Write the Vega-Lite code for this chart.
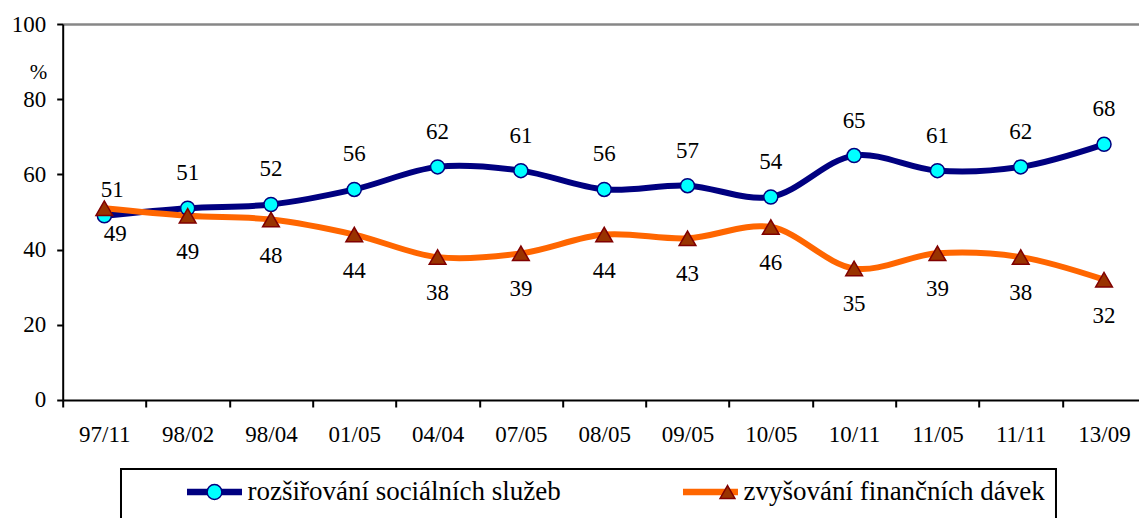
{
  "$schema": "https://vega.github.io/schema/vega-lite/v6.json",
  "width": 1083,
  "height": 376,
  "autosize": {"type": "none"},
  "padding": {"left": 62.7, "top": 24, "right": 0, "bottom": 118},
  "background": "white",
  "config": {
    "view": {"stroke": null},
    "font": "Liberation Serif",
    "text": {"font": "Liberation Serif"},
    "axis": {"labelFont": "Liberation Serif", "titleFont": "Liberation Serif"},
    "legend": {"labelFont": "Liberation Serif", "titleFont": "Liberation Serif"}
  },
  "data": {
    "values": [
      {"period": "97/11", "series": "rozšiřování sociálních služeb", "value": 49},
      {"period": "97/11", "series": "zvyšování finančních dávek", "value": 51},
      {"period": "98/02", "series": "rozšiřování sociálních služeb", "value": 51},
      {"period": "98/02", "series": "zvyšování finančních dávek", "value": 49},
      {"period": "98/04", "series": "rozšiřování sociálních služeb", "value": 52},
      {"period": "98/04", "series": "zvyšování finančních dávek", "value": 48},
      {"period": "01/05", "series": "rozšiřování sociálních služeb", "value": 56},
      {"period": "01/05", "series": "zvyšování finančních dávek", "value": 44},
      {"period": "04/04", "series": "rozšiřování sociálních služeb", "value": 62},
      {"period": "04/04", "series": "zvyšování finančních dávek", "value": 38},
      {"period": "07/05", "series": "rozšiřování sociálních služeb", "value": 61},
      {"period": "07/05", "series": "zvyšování finančních dávek", "value": 39},
      {"period": "08/05", "series": "rozšiřování sociálních služeb", "value": 56},
      {"period": "08/05", "series": "zvyšování finančních dávek", "value": 44},
      {"period": "09/05", "series": "rozšiřování sociálních služeb", "value": 57},
      {"period": "09/05", "series": "zvyšování finančních dávek", "value": 43},
      {"period": "10/05", "series": "rozšiřování sociálních služeb", "value": 54},
      {"period": "10/05", "series": "zvyšování finančních dávek", "value": 46},
      {"period": "10/11", "series": "rozšiřování sociálních služeb", "value": 65},
      {"period": "10/11", "series": "zvyšování finančních dávek", "value": 35},
      {"period": "11/05", "series": "rozšiřování sociálních služeb", "value": 61},
      {"period": "11/05", "series": "zvyšování finančních dávek", "value": 39},
      {"period": "11/11", "series": "rozšiřování sociálních služeb", "value": 62},
      {"period": "11/11", "series": "zvyšování finančních dávek", "value": 38},
      {"period": "13/09", "series": "rozšiřování sociálních služeb", "value": 68},
      {"period": "13/09", "series": "zvyšování finančních dávek", "value": 32}
    ]
  },
  "encoding": {
    "x": {
      "field": "period",
      "type": "nominal",
      "sort": null,
      "scale": {"type": "band", "paddingInner": 0, "paddingOuter": 0},
      "axis": {
        "title": null,
        "labelAngle": 0,
        "labelFontSize": 23,
        "labelColor": "black",
        "labelPadding": 17,
        "tickBand": "extent",
        "tickSize": 7,
        "tickWidth": 2,
        "tickColor": "black",
        "domainColor": "black",
        "domainWidth": 2,
        "grid": false
      }
    },
    "y": {
      "field": "value",
      "type": "quantitative",
      "scale": {"domain": [0, 100], "nice": false},
      "axis": {
        "title": "%",
        "titleAngle": 0,
        "titleX": -24.7,
        "titleY": 48,
        "titleAlign": "center",
        "titleBaseline": "middle",
        "titleFontSize": 21,
        "titleFontWeight": "normal",
        "titleColor": "black",
        "values": [0, 20, 40, 60, 80, 100],
        "labelFontSize": 23,
        "labelColor": "black",
        "labelPadding": 11,
        "tickSize": 6,
        "tickWidth": 2,
        "tickColor": "black",
        "domainColor": "black",
        "domainWidth": 2,
        "grid": true,
        "gridColor": "#878787",
        "gridWidth": 2.5,
        "gridOpacity": {"condition": {"test": "datum.value === 100", "value": 1}, "value": 0}
      }
    }
  },
  "layer": [
    {
      "mark": {"type": "line", "interpolate": "catmull-rom", "strokeWidth": 6},
      "encoding": {
        "color": {
          "field": "series",
          "type": "nominal",
          "scale": {
            "domain": ["rozšiřování sociálních služeb", "zvyšování finančních dávek"],
            "range": ["#000080", "#FF6600"]
          },
          "legend": {
            "orient": "none",
            "legendX": 58.3,
            "legendY": 445,
            "direction": "horizontal",
            "columns": 2,
            "title": " ",
            "titleOrient": "left",
            "titleFontSize": 60,
            "titlePadding": 51.5,
            "titleBaseline": "top",
            "padding": 11,
            "strokeColor": "black",
            "symbolType": "stroke",
            "symbolSize": 3025,
            "symbolStrokeWidth": 6.5,
            "clipHeight": 24,
            "labelFontSize": 27,
            "labelColor": "black",
            "labelOffset": 2,
            "labelLimit": 700,
            "columnPadding": 118,
            "encode": {"legend": {"update": {"strokeWidth": {"value": 2}}}}
          }
        }
      }
    },
    {
      "transform": [{"filter": "datum.series === 'rozšiřování sociálních služeb'"}],
      "mark": {"type": "point", "filled": true, "size": 196, "strokeWidth": 1.5, "opacity": 1},
      "encoding": {
        "fill": {
          "field": "series",
          "type": "nominal",
          "scale": {"range": ["#00FFFF", "#993300"]},
          "legend": {
            "orient": "none",
            "legendX": 58.3,
            "legendY": 445,
            "direction": "horizontal",
            "columns": 2,
            "title": " ",
            "titleOrient": "left",
            "titleFontSize": 60,
            "titlePadding": 51.5,
            "titleBaseline": "top",
            "padding": 11,
            "strokeColor": null,
            "symbolSize": 220,
            "symbolStrokeWidth": 1.5,
            "symbolOffset": 17.5,
            "clipHeight": 24,
            "labelFontSize": 27,
            "labelOpacity": 0,
            "labelColor": "transparent",
            "labelOffset": 37,
            "labelLimit": 700,
            "columnPadding": 118
          }
        },
        "stroke": {
          "field": "series",
          "type": "nominal",
          "scale": {"range": ["#000080", "#800000"]}
        },
        "shape": {
          "field": "series",
          "type": "nominal",
          "scale": {"range": ["circle", "triangle-up"]}
        }
      }
    },
    {
      "transform": [{"filter": "datum.series === 'zvyšování finančních dávek'"}],
      "mark": {"type": "point", "filled": true, "size": 280, "strokeWidth": 1.5, "opacity": 1},
      "encoding": {
        "fill": {"field": "series", "type": "nominal"},
        "stroke": {"field": "series", "type": "nominal"},
        "shape": {"field": "series", "type": "nominal"}
      }
    },
    {
      "transform": [{"filter": "datum.series === 'rozšiřování sociálních služeb' && datum.period !== '97/11'"}],
      "mark": {"type": "text", "fontSize": 23, "color": "black", "baseline": "middle", "dy": -35},
      "encoding": {"text": {"field": "value", "type": "quantitative"}}
    },
    {
      "transform": [{"filter": "datum.series === 'zvyšování finančních dávek' && datum.period !== '97/11'"}],
      "mark": {"type": "text", "fontSize": 23, "color": "black", "baseline": "middle", "dy": 36},
      "encoding": {"text": {"field": "value", "type": "quantitative"}}
    },
    {
      "transform": [{"filter": "datum.series === 'zvyšování finančních dávek' && datum.period === '97/11'"}],
      "mark": {"type": "text", "fontSize": 23, "color": "black", "baseline": "middle", "dy": -18, "dx": 8},
      "encoding": {"text": {"field": "value", "type": "quantitative"}}
    },
    {
      "transform": [{"filter": "datum.series === 'rozšiřování sociálních služeb' && datum.period === '97/11'"}],
      "mark": {"type": "text", "fontSize": 23, "color": "black", "baseline": "middle", "dy": 18, "dx": 11},
      "encoding": {"text": {"field": "value", "type": "quantitative"}}
    }
  ]
}
